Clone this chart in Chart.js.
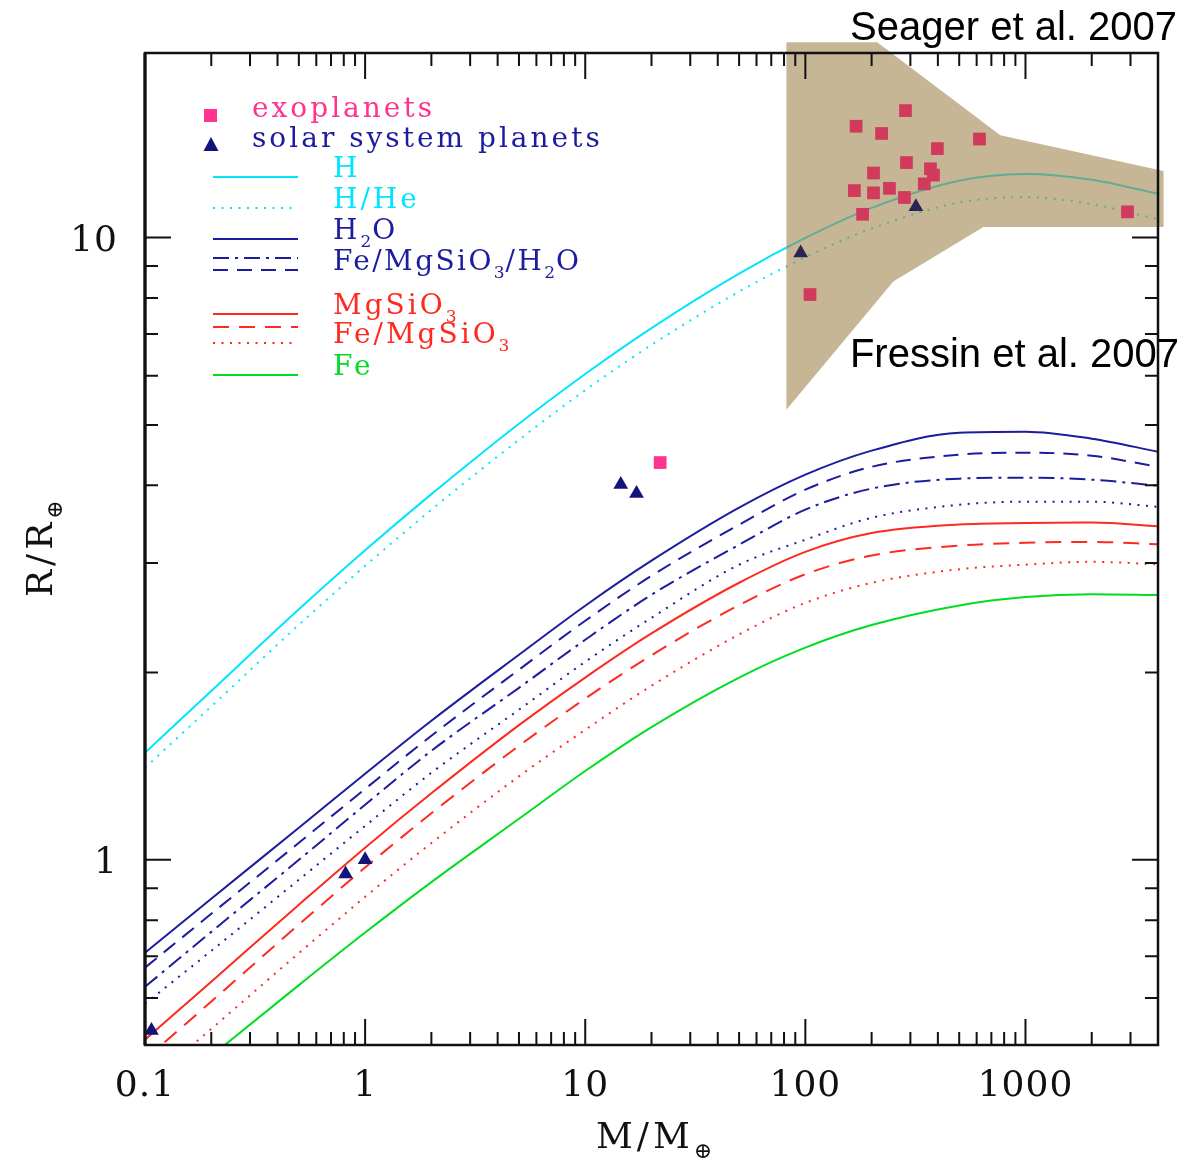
<!DOCTYPE html>
<html>
<head>
<meta charset="utf-8">
<script src="https://cdn.jsdelivr.net/npm/chart.js@4.4.0/dist/chart.umd.min.js"></script>
<style>
  html,body{margin:0;padding:0;background:#fff}
  #wrap{width:1196px;height:1164px;position:relative}
</style>
</head>
<body>
<div id="wrap"><canvas id="c" width="1196" height="1164"></canvas></div>
<script>
// mass grid (Earth masses) shared by every model curve
const massGrid = [0.1, 0.2, 0.5, 1, 2, 5, 10, 20, 50, 100, 200, 500, 1000, 2000, 4000];

// model radii (Earth radii)
const rH          = [1.486, 1.868, 2.527, 3.144, 3.870, 5.023, 6.037, 7.154, 8.753, 9.986, 11.16, 12.34, 12.65, 12.39, 11.76];
const rHHe        = [1.406, 1.764, 2.386, 2.968, 3.653, 4.732, 5.686, 6.724, 8.189, 9.299, 10.34, 11.39, 11.61, 11.32, 10.70];
const rH2O        = [0.709, 0.866, 1.126, 1.375, 1.673, 2.136, 2.561, 3.025, 3.681, 4.159, 4.546, 4.859, 4.877, 4.752, 4.528];
const rH2OMixA    = [0.671, 0.819, 1.065, 1.300, 1.583, 2.021, 2.422, 2.861, 3.456, 3.935, 4.282, 4.478, 4.512, 4.462, 4.282];
const rH2OMixB    = [0.625, 0.766, 1.000, 1.226, 1.497, 1.890, 2.258, 2.667, 3.209, 3.654, 3.950, 4.098, 4.113, 4.083, 3.993];
const rH2OMixC    = [0.587, 0.714, 0.929, 1.134, 1.380, 1.743, 2.081, 2.449, 2.980, 3.269, 3.546, 3.721, 3.763, 3.763, 3.693];
const rMgSiO3     = [0.514, 0.637, 0.847, 1.046, 1.279, 1.646, 1.963, 2.311, 2.788, 3.126, 3.351, 3.459, 3.478, 3.483, 3.436];
const rFeMgA      = [0.478, 0.592, 0.787, 0.972, 1.188, 1.525, 1.816, 2.132, 2.567, 2.877, 3.084, 3.199, 3.232, 3.243, 3.214];
const rFeMgB      = [0.434, 0.535, 0.708, 0.872, 1.064, 1.362, 1.618, 1.904, 2.303, 2.588, 2.787, 2.931, 2.981, 3.013, 2.985];
const rFe         = [0.396, 0.484, 0.629, 0.764, 0.921, 1.164, 1.389, 1.634, 1.963, 2.193, 2.384, 2.564, 2.645, 2.673, 2.664];

// transiting exoplanets
const exoMass   = [285, 170, 222, 618, 398, 288, 370, 382, 204, 167, 204, 241, 347, 282, 182, 105, 2908, 21.9];
const exoRadius = [16.0, 15.1, 14.7, 14.4, 13.9, 13.2, 12.9, 12.6, 12.7, 11.9, 11.8, 12.0, 12.2, 11.6, 10.9, 8.1, 11.0, 4.35];

// solar system: Mars, Venus, Earth, Uranus, Neptune, Saturn, Jupiter
const solarMass   = [0.107, 0.815, 1, 14.5, 17.1, 95.2, 317.8];
const solarRadius = [0.532, 0.949, 1, 4.01, 3.88, 9.45, 11.21];

// Fressin et al. shaded region (outline vertices)
const bandMass   = [82, 212, 769, 4240, 4240, 644, 251, 82];
const bandRadius = [20.6, 20.6, 14.6, 12.8, 10.4, 10.4, 8.5, 5.29];

const xTickLabels = ['0.1', '1', '10', '100', '1000'];
const yTickLabels = ['1', '10'];

const CYAN = '#00e5ff', NAVY = '#1c1c9e', RED = '#ff2a1f', GREEN = '#00dd22';
const PINK = '#ff3390', CRIMSON = '#d23a5c', TRI = '#13137c', TRI_DARK = '#2a2450';
const SERIF = '"DejaVu Serif", serif';

const pts = ys => massGrid.map((m, i) => ({x: m, y: ys[i]}));
const curve = (ys, color, dash) => ({
  data: pts(ys), showLine: true, borderColor: color, borderWidth: 2,
  borderDash: dash || [], pointRadius: 0, fill: false,
  cubicInterpolationMode: 'monotone', borderCapStyle: 'butt'
});

const DOT = [2, 6.5], DASH = [15, 9], DASHDOT = [16, 6, 3, 6];

const datasets = [
  { // 0 exoplanets
    data: exoMass.map((m, i) => ({x: m, y: exoRadius[i]})),
    pointStyle: 'rect', pointRadius: 9, borderWidth: 0,
    backgroundColor: exoMass.map((m, i) => i === exoMass.length - 1 ? PINK : CRIMSON)
  },
  { // 1 solar system
    data: solarMass.map((m, i) => ({x: m, y: solarRadius[i]})),
    pointStyle: 'triangle', pointRadius: 8.5, borderWidth: 0,
    backgroundColor: solarMass.map(m => m > 50 ? TRI_DARK : TRI)
  },
  curve(rH, CYAN),
  curve(rHHe, CYAN, DOT),
  curve(rH2O, NAVY),
  curve(rH2OMixA, NAVY, DASH),
  curve(rH2OMixB, NAVY, DASHDOT),
  curve(rH2OMixC, NAVY, DOT),
  curve(rMgSiO3, RED),
  curve(rFeMgA, RED, [16, 10]),
  curve(rFeMgB, RED, DOT),
  curve(rFe, GREEN)
];

function rich(ctx, parts, x, y, size, spacing) {
  // parts: [text, isSub]
  let cx = x;
  parts.forEach(([t, sub]) => {
    ctx.font = (sub ? Math.round(size * 0.62) : size) + 'px ' + SERIF;
    ctx.letterSpacing = (sub ? 1 : spacing) + 'px';
    ctx.fillText(t, cx, y + (sub ? size * 0.28 : 0));
    cx += ctx.measureText(t).width;
  });
  ctx.letterSpacing = '0px';
}

function seg(ctx, y, color, dash) {
  ctx.save();
  ctx.strokeStyle = color; ctx.lineWidth = 2; ctx.setLineDash(dash || []);
  ctx.beginPath(); ctx.moveTo(213, y); ctx.lineTo(298, y); ctx.stroke();
  ctx.restore();
}

const decor = {
  id: 'decor',
  afterDatasetDraw(chart, args) {
    if (args.index !== 2) return;
    const {ctx} = chart, xs = chart.scales.x, ys = chart.scales.y;
    ctx.save();
    ctx.beginPath();
    bandMass.forEach((m, i) => {
      const px = xs.getPixelForValue(m), py = ys.getPixelForValue(bandRadius[i]);
      if (i) ctx.lineTo(px, py); else ctx.moveTo(px, py);
    });
    ctx.closePath();
    ctx.fillStyle = 'rgba(160,133,80,0.6)';
    ctx.fill();
    ctx.restore();
  },
  afterDraw(chart) {
    const {ctx, chartArea: a} = chart, xs = chart.scales.x, ys = chart.scales.y;
    ctx.save();
    // frame
    ctx.strokeStyle = '#111';
    ctx.lineWidth = 2.5;
    ctx.strokeRect(a.left, a.top, a.right - a.left, a.bottom - a.top);
    ctx.lineWidth = 3.2;
    ctx.beginPath(); ctx.moveTo(a.left, a.top); ctx.lineTo(a.left, a.bottom); ctx.stroke();

    // ticks
    ctx.lineWidth = 2;
    [0.1, 1, 10, 100, 1000].forEach(d => {
      for (let k = 1; k <= 9; k++) {
        const v = d * k;
        if (v < xs.min || v > xs.max) continue;
        const px = xs.getPixelForValue(v), len = k === 1 ? 26 : 13;
        ctx.beginPath();
        ctx.moveTo(px, a.bottom); ctx.lineTo(px, a.bottom - len);
        ctx.moveTo(px, a.top); ctx.lineTo(px, a.top + len);
        ctx.stroke();
      }
    });
    [0.1, 1, 10].forEach(d => {
      for (let k = 1; k <= 9; k++) {
        const v = d * k;
        if (v < ys.min || v > ys.max) continue;
        const py = ys.getPixelForValue(v), len = k === 1 ? 26 : 13;
        ctx.beginPath();
        ctx.moveTo(a.left, py); ctx.lineTo(a.left + len, py);
        ctx.moveTo(a.right, py); ctx.lineTo(a.right - len, py);
        ctx.stroke();
      }
    });

    // tick labels
    ctx.fillStyle = '#111';
    ctx.font = '36px ' + SERIF;
    ctx.letterSpacing = '1px';
    ctx.textAlign = 'center';
    ctx.textBaseline = 'alphabetic';
    xTickLabels.forEach(l => ctx.fillText(l, xs.getPixelForValue(+l), a.bottom + 51));
    ctx.textAlign = 'right';
    yTickLabels.forEach(l => ctx.fillText(l, 118, ys.getPixelForValue(+l) + 13));
    ctx.letterSpacing = '0px';
    ctx.textAlign = 'left';

    // axis titles
    rich(ctx, [['M/M', false], ['\u2295', true]], 596, 1148, 36, 4);
    ctx.save();
    ctx.translate(52, 597);
    ctx.rotate(-Math.PI / 2);
    rich(ctx, [['R/R', false], ['\u2295', true]], 0, 0, 36, 4);
    ctx.restore();

    // legend
    ctx.fillStyle = PINK;
    ctx.fillRect(204, 109, 13, 13);
    ctx.fillStyle = TRI;
    ctx.beginPath(); ctx.moveTo(211, 137); ctx.lineTo(218.5, 151); ctx.lineTo(203.5, 151); ctx.closePath(); ctx.fill();

    const LS = 3, FS = 28;
    ctx.fillStyle = PINK;  rich(ctx, [['exoplanets', false]], 252, 117, FS, LS);
    ctx.fillStyle = NAVY;  rich(ctx, [['solar system planets', false]], 252, 147, FS, LS);

    seg(ctx, 177, CYAN);
    ctx.fillStyle = CYAN;  rich(ctx, [['H', false]], 333, 177, FS, LS);
    seg(ctx, 208, CYAN, DOT);
    rich(ctx, [['H/He', false]], 333, 208, FS, LS);

    seg(ctx, 239, NAVY);
    ctx.fillStyle = NAVY;
    rich(ctx, [['H', false], ['2', true], ['O', false]], 333, 239, FS, LS);
    seg(ctx, 258, NAVY, DASHDOT);
    seg(ctx, 270, NAVY, DASH);
    rich(ctx, [['Fe/MgSiO', false], ['3', true], ['/H', false], ['2', true], ['O', false]], 333, 270, FS, 2.4);

    seg(ctx, 314, RED);
    ctx.fillStyle = RED;
    rich(ctx, [['MgSiO', false], ['3', true]], 333, 314, FS, LS);
    seg(ctx, 327, RED, [16, 10]);
    seg(ctx, 343, RED, DOT);
    rich(ctx, [['Fe/MgSiO', false], ['3', true]], 333, 343, FS, LS);

    seg(ctx, 375, GREEN);
    ctx.fillStyle = GREEN;
    rich(ctx, [['Fe', false]], 333, 375, FS, LS);

    // source annotations
    ctx.fillStyle = '#000';
    ctx.font = '40px "Liberation Sans", Arial, sans-serif';
    ctx.textAlign = 'right';
    ctx.fillText('Seager et al. 2007', 1177, 40);
    ctx.fillText('Fressin et al. 2007', 1179, 367);
    ctx.restore();
  }
};

new Chart(document.getElementById('c'), {
  type: 'scatter',
  data: {datasets},
  options: {
    responsive: false,
    animation: false,
    layout: {padding: {left: 145, top: 53, right: 38, bottom: 119}},
    plugins: {legend: {display: false}, tooltip: {enabled: false}},
    scales: {
      x: {type: 'logarithmic', min: 0.1, max: 4000, display: false},
      y: {type: 'logarithmic', min: 0.504, max: 19.8, display: false}
    }
  },
  plugins: [decor]
});
</script>
</body>
</html>
